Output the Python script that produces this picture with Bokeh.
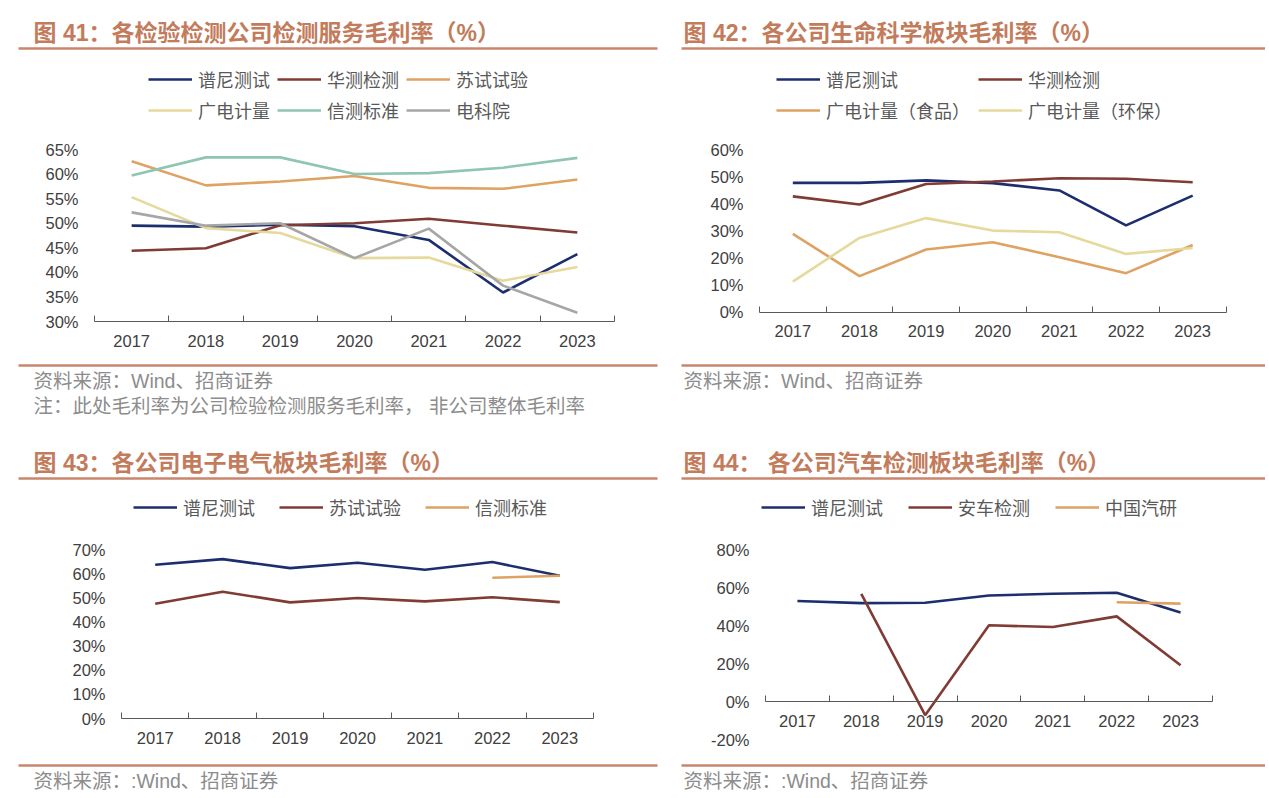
import numpy as np
from bokeh.plotting import figure
from bokeh.models import (FixedTicker, PrintfTickFormatter, Label, BoxAnnotation,
                          Legend, LegendItem, Range1d)
from bokeh.layouts import column, row
from bokeh.embed import file_html
from bokeh.resources import INLINE

NaN = float("nan")

# ---------------- data ----------------
years = ["2017", "2018", "2019", "2020", "2021", "2022", "2023"]

# Fig 41: testing-service gross margin (%)
f41_puni = [49.5, 49.3, 49.7, 49.4, 46.6, 35.9, 43.7]
f41_huace = [44.4, 44.9, 49.6, 50.0, 50.9, 49.5, 48.1]
f41_sushi = [62.6, 57.7, 58.5, 59.6, 57.2, 57.0, 58.9]
f41_grg = [55.3, 49.0, 48.0, 42.9, 43.0, 38.3, 41.1]
f41_xince = [59.7, 63.4, 63.4, 60.0, 60.2, 61.3, 63.3]
f41_dky = [52.2, 49.5, 50.0, 42.9, 48.9, 37.3, 31.8]

# Fig 42: life science segment gross margin (%)
f42_puni = [47.7, 47.7, 48.6, 47.6, 44.9, 32.0, 43.0]
f42_huace = [42.7, 39.7, 47.3, 48.2, 49.4, 49.2, 47.9]
f42_grg_food = [28.9, 13.3, 23.1, 25.8, 20.3, 14.4, 24.8]
f42_grg_env = [11.3, 27.4, 34.7, 30.1, 29.5, 21.5, 23.7]

# Fig 43: electronics & electrical segment gross margin (%)
f43_puni = [63.7, 66.0, 62.3, 64.5, 61.6, 64.8, 59.1]
f43_sushi = [47.5, 52.5, 48.1, 49.9, 48.5, 50.2, 48.2]
f43_xince = [NaN, NaN, NaN, NaN, NaN, 58.3, 59.1]

# Fig 44: automotive testing segment gross margin (%)
f44_puni = [52.9, 51.8, 52.0, 55.8, 56.7, 57.2, 46.9]
f44_anche = [NaN, 56.7, -7.2, 40.1, 39.2, 44.8, 19.1]
f44_caeri = [NaN, NaN, NaN, NaN, NaN, 52.2, 51.5]

f41_ticks = [30, 35, 40, 45, 50, 55, 60, 65]
f42_ticks = [0, 10, 20, 30, 40, 50, 60]
f43_ticks = [0, 10, 20, 30, 40, 50, 60, 70]
f44_ticks = [-20, 0, 20, 40, 60, 80]

# ---------------- style ----------------
NAVY = "#1c2e6e"
BROWN = "#7f3b34"
ORANGE = "#dea263"
YELLOW = "#e6d99c"
TEAL = "#8fc5b3"
GRAY = "#a6a6a6"
TITLE_C = "#c27b5b"
RULE_C = "#c9866b"
TICK_C = "#404040"
LEG_C = "#595959"
SRC_C = "#8c8c8c"
FONT = "Liberation Sans, Noto Sans CJK SC"

NCAT = len(years)
xs = [i + 0.5 for i in range(NCAT)]


def panel(fig_box, axis_box, yr, yticks, series, title, legend_cfg, rules,
          sources, xaxis_at=None):
    fx0, fy0, fx1, fy1 = fig_box          # screen rect of the figure
    ax0, ax1, ay_top, ay_bot = axis_box   # screen position of plot area
    W, H = fx1 - fx0, fy1 - fy0
    ux = (ax1 - ax0) / NCAT
    uy = (ay_bot - ay_top) / (yr[1] - yr[0])
    xr = Range1d(0 - (ax0 - fx0) / ux, NCAT + (fx1 - ax1) / ux)
    yrng = Range1d(yr[0] - (fy1 - ay_bot) / uy, yr[1] + (ay_top - fy0) / uy)

    def sx(x):
        return x - fx0

    def sy(y):
        return fy1 - y

    p = figure(width=W, height=H, output_backend="svg", toolbar_location=None,
               x_range=xr, y_range=yrng, title=None,
               min_border=0, min_border_left=0, min_border_right=0,
               min_border_top=0, min_border_bottom=0)
    p.outline_line_color = None
    p.xgrid.visible = False
    p.ygrid.visible = False
    p.background_fill_color = "white"
    p.border_fill_color = "white"

    xa = p.xaxis[0]
    xa.fixed_location = yr[0] if xaxis_at is None else xaxis_at
    xa.bounds = (0, NCAT)
    xa.ticker = FixedTicker(ticks=xs, minor_ticks=list(range(NCAT + 1)))
    xa.major_label_overrides = {x: y for x, y in zip(xs, years)}
    xa.major_tick_in = 0
    xa.major_tick_out = 0
    xa.minor_tick_in = 6
    xa.minor_tick_out = 0
    xa.minor_tick_line_color = "#595959"
    xa.axis_line_color = "#595959"
    xa.axis_line_width = 1.2
    xa.major_label_text_font = FONT
    xa.major_label_text_font_size = "16.5px"
    xa.major_label_text_color = TICK_C
    xa.major_label_standoff = 13

    ya = p.yaxis[0]
    ya.fixed_location = 0
    ya.bounds = yr
    ya.ticker = FixedTicker(ticks=yticks)
    ya.formatter = PrintfTickFormatter(format="%d%%")
    ya.axis_line_color = None
    ya.major_tick_line_color = None
    ya.minor_tick_line_color = None
    ya.major_label_text_font = FONT
    ya.major_label_text_font_size = "16.5px"
    ya.major_label_text_color = TICK_C
    ya.major_label_standoff = 10

    items = []
    for name, vals, color in series:
        r = p.line(xs, vals, line_color=color, line_width=2.6)
        items.append(LegendItem(label=name, renderers=[r]))

    lx, ly, ncols, lw = legend_cfg
    leg = Legend(items=items, location=(sx(lx), sy(ly)), ncols=ncols,
                 orientation="horizontal",
                 glyph_width=44, glyph_height=22, label_height=22,
                 label_width=lw, label_standoff=6, spacing=5, padding=0,
                 margin=0, border_line_color=None, background_fill_alpha=0,
                 label_text_font=FONT, label_text_font_size="18px",
                 label_text_color=LEG_C)
    p.add_layout(leg, "center")

    p.add_layout(Label(x=sx(title[0]), y=sy(title[1]), x_units="screen",
                       y_units="screen", text=title[2], text_font=FONT,
                       text_font_size="23px", text_font_style="bold",
                       text_color=TITLE_C, text_baseline="middle"))

    for (x1, x2, yc) in rules:
        p.add_layout(BoxAnnotation(left=sx(x1), right=sx(x2),
                                   top=sy(yc - 1.3), bottom=sy(yc + 1.3),
                                   left_units="screen", right_units="screen",
                                   top_units="screen", bottom_units="screen",
                                   fill_color=RULE_C, fill_alpha=1,
                                   line_color=None))

    for (tx, ty, txt) in sources:
        p.add_layout(Label(x=sx(tx), y=sy(ty), x_units="screen",
                           y_units="screen", text=txt, text_font=FONT,
                           text_font_size="19.5px", text_color=SRC_C,
                           text_baseline="middle"))
    return p


p1 = panel((0, 0, 665, 418), (94, 614, 149, 321), (30, 65), f41_ticks,
           [("谱尼测试", f41_puni, NAVY), ("华测检测", f41_huace, BROWN),
            ("苏试试验", f41_sushi, ORANGE), ("广电计量", f41_grg, YELLOW),
            ("信测标准", f41_xince, TEAL), ("电科院", f41_dky, GRAY)],
           (33, 32, "图 41：各检验检测公司检测服务毛利率（%）"),
           (148, 123, 3, 74),
           [(18, 657, 48), (18, 657, 365)],
           [(33, 380, "资料来源：Wind、招商证券"),
            (33, 405, "注：此处毛利率为公司检验检测服务毛利率， 非公司整体毛利率")])

p2 = panel((665, 0, 1265, 418), (759, 1225.5, 149, 311.7), (0, 60), f42_ticks,
           [("谱尼测试", f42_puni, NAVY), ("华测检测", f42_huace, BROWN),
            ("广电计量（食品）", f42_grg_food, ORANGE),
            ("广电计量（环保）", f42_grg_env, YELLOW)],
           (683, 32, "图 42：各公司生命科学板块毛利率（%）"),
           (776, 123, 2, 147),
           [(681, 1270, 48), (681, 1270, 365)],
           [(683, 380, "资料来源：Wind、招商证券")])

p3 = panel((0, 418, 665, 796), (121, 593, 549, 718), (0, 70), f43_ticks,
           [("谱尼测试", f43_puni, NAVY), ("苏试试验", f43_sushi, BROWN),
            ("信测标准", f43_xince, ORANGE)],
           (33, 462, "图 43：各公司电子电气板块毛利率（%）"),
           (133, 520, 3, 91),
           [(18, 657, 478), (18, 657, 765)],
           [(33, 780, "资料来源：:Wind、招商证券")])

p4 = panel((665, 418, 1265, 796), (765, 1212, 549, 739), (-20, 80), f44_ticks,
           [("谱尼测试", f44_puni, NAVY), ("安车检测", f44_anche, BROWN),
            ("中国汽研", f44_caeri, ORANGE)],
           (683, 462, "图 44：  各公司汽车检测板块毛利率（%）"),
           (761, 520, 3, 92),
           [(681, 1270, 478), (681, 1270, 765)],
           [(683, 780, "资料来源：:Wind、招商证券")],
           xaxis_at=0)

layout = column(row(p1, p2, spacing=0), row(p3, p4, spacing=0), spacing=0)
open("out.html", "w").write(file_html(layout, INLINE))
